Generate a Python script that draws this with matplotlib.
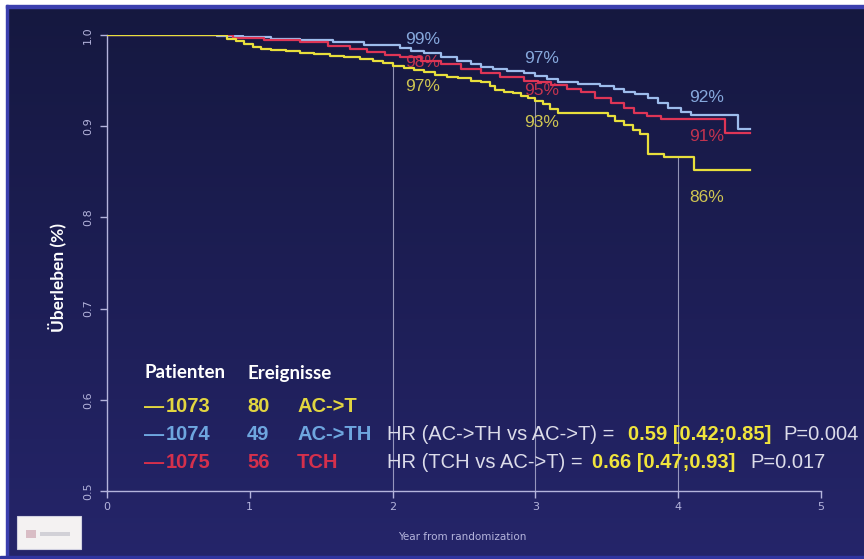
import matplotlib.pyplot as plt
import numpy as np
from matplotlib.colors import LinearSegmentedColormap
from matplotlib.patches import Rectangle

# --- Kaplan-Meier Daten ---
years_act = [0, 0.84, 0.90, 0.96, 1.02, 1.08, 1.15, 1.25, 1.35, 1.45, 1.56, 1.66, 1.77,
             1.86, 1.93, 2.00, 2.08, 2.15, 2.22, 2.30, 2.38, 2.46, 2.55, 2.62, 2.68,
             2.72, 2.78, 2.84, 2.90, 2.95, 3.00, 3.05, 3.10, 3.16, 3.51, 3.56, 3.62,
             3.68, 3.73, 3.79, 3.90, 4.11, 4.50]
surv_act = [1.0, 0.996, 0.993, 0.990, 0.987, 0.985, 0.984, 0.982, 0.980, 0.979, 0.977,
            0.976, 0.974, 0.972, 0.969, 0.966, 0.964, 0.962, 0.959, 0.956, 0.954, 0.953,
            0.950, 0.948, 0.944, 0.940, 0.938, 0.936, 0.933, 0.931, 0.928, 0.924, 0.919,
            0.915, 0.911, 0.906, 0.901, 0.896, 0.891, 0.870, 0.866, 0.852, 0.852]

years_acth = [0, 0.77, 0.95, 1.15, 1.35, 1.58, 1.80, 2.05, 2.13, 2.22, 2.34, 2.45, 2.55,
              2.62, 2.70, 2.80, 2.92, 3.00, 3.08, 3.16, 3.30, 3.45, 3.55, 3.62, 3.70,
              3.79, 3.86, 3.93, 4.02, 4.09, 4.42, 4.50]
surv_acth = [1.0, 0.999, 0.998, 0.996, 0.994, 0.992, 0.989, 0.986, 0.983, 0.980, 0.976,
             0.972, 0.968, 0.965, 0.963, 0.961, 0.958, 0.955, 0.952, 0.948, 0.946, 0.944,
             0.941, 0.938, 0.935, 0.931, 0.925, 0.920, 0.916, 0.912, 0.897, 0.897]

years_tch = [0, 0.88, 1.10, 1.35, 1.55, 1.70, 1.82, 1.95, 2.05, 2.20, 2.34, 2.48, 2.62,
             2.75, 2.92, 3.02, 3.11, 3.22, 3.32, 3.42, 3.53, 3.62, 3.69, 3.78, 3.88,
             4.33, 4.50]
surv_tch = [1.0, 0.997, 0.995, 0.992, 0.988, 0.985, 0.981, 0.978, 0.976, 0.972, 0.968,
            0.963, 0.958, 0.954, 0.950, 0.948, 0.945, 0.941, 0.937, 0.931, 0.925, 0.920,
            0.915, 0.911, 0.908, 0.893, 0.893]

arms = ['AC->T', 'AC->TH', 'TCH']
patients = [1073, 1074, 1075]
events = [80, 49, 56]
pct_act = ['97%', '93%', '86%']
pct_acth = ['99%', '97%', '92%']
pct_tch = ['98%', '95%', '91%']
hr_text = ['HR (AC->TH vs AC->T) =', 'HR (TCH vs AC->T) =']
hr_vals = ['0.59 [0.42;0.85]', '0.66 [0.47;0.93]']
p_vals = ['P=0.004', 'P=0.017']
ref_years = [2, 3, 4]
yticks = [0.5, 0.6, 0.7, 0.8, 0.9, 1.0]
xticks = [0, 1, 2, 3, 4, 5]

# --- Farben / Schriften ---
c_yellow, c_blue, c_red = '#e8df3c', '#9dbcec', '#de3556'
t_yellow, t_blue, t_red = '#e2d640', '#6ea6df', '#d5304c'
txt_white = '#dcdcea'
axis_col = '#b4b4dc'
sans = 'Liberation Sans'
bold_font = 'Lato'

W, H = 864, 559
fig = plt.figure(figsize=(W / 100, H / 100), dpi=100)


def fx(px):
    return px / W


def fy(py):
    return 1 - py / H


# Hintergrund mit Verlauf
bg = fig.add_axes([0, 0, 1, 1], zorder=-10)
cmap = LinearSegmentedColormap.from_list('navy', ['#15183f', '#1d1e55', '#25256a'])
bg.imshow(np.linspace(0, 1, 256).reshape(-1, 1), aspect='auto', cmap=cmap,
          extent=[0, 1, 0, 1], origin='upper')
bg.set_xlim(0, 1)
bg.set_ylim(0, 1)
bg.axis('off')

# Rahmen
fig.patches.append(Rectangle((0, 0), fx(6), 1, transform=fig.transFigure, color='white', zorder=-5))
fig.patches.append(Rectangle((0, fy(5)), 1, 5 / H, transform=fig.transFigure, color='white', zorder=-5))
fig.patches.append(Rectangle((fx(6), 0), 2 / W, fy(5), transform=fig.transFigure, color='#3b3fae', zorder=-5))
fig.patches.append(Rectangle((fx(6), fy(7.5)), 1, 2.5 / H, transform=fig.transFigure, color='#3b3fae', zorder=-5))
fig.patches.append(Rectangle((0, 0), 1, 3 / H, transform=fig.transFigure, color='#3034a0', zorder=-5))

# Logo-Platzhalter unten links
fig.patches.append(Rectangle((fx(17), fy(549)), 64 / W, 33 / H, transform=fig.transFigure,
                             facecolor='#f4f2f2', edgecolor='#d0d0e0', lw=0.8, zorder=2))
fig.patches.append(Rectangle((fx(26), fy(538)), 10 / W, 8 / H, transform=fig.transFigure,
                             facecolor='#c89aa8', edgecolor='none', alpha=0.6, zorder=3))
fig.patches.append(Rectangle((fx(40), fy(536)), 30 / W, 4 / H, transform=fig.transFigure,
                             facecolor='#c4c4cc', edgecolor='none', alpha=0.7, zorder=3))

# --- Plot ---
ax = fig.add_axes([fx(107), fy(491), (821 - 107) / W, (491 - 35) / H])
ax.set_facecolor('none')

for t, s, c in [(years_acth, surv_acth, c_blue), (years_tch, surv_tch, c_red),
                (years_act, surv_act, c_yellow)]:
    ax.plot(t, s, drawstyle='steps-post', color=c, lw=1.6, zorder=3)

# senkrechte Hilfslinien bis zur AC->T Kurve
for yr in ref_years:
    idx = np.searchsorted(years_act, yr, side='right') - 1
    ax.vlines(yr, 0.5, surv_act[idx], color='#c8c8e4', lw=0.8, alpha=0.7, zorder=1)

# Prozent-Beschriftungen
pct_x = [2.09, 2.92, 4.08]
pct_kw = dict(fontsize=12.5, family=sans, va='center', ha='left')
for x, lab, yv in zip(pct_x, pct_acth, [0.995, 0.974, 0.931]):
    ax.text(x, yv, lab, color='#86a8dc', zorder=2, **pct_kw)
for x, lab, yv in zip(pct_x, pct_tch, [0.970, 0.939, 0.889]):
    ax.text(x, yv, lab, color='#c2334f', zorder=2, **pct_kw)
for x, lab, yv in zip(pct_x, pct_act, [0.943, 0.904, 0.822]):
    ax.text(x, yv, lab, color='#cfc552', zorder=2, **pct_kw)

ax.set_xlim(0, 5)
ax.set_ylim(0.5, 1.0)
ax.set_xticks(xticks)
ax.set_xticklabels([str(v) for v in xticks])
ax.set_yticks(yticks)
ax.set_yticklabels([f'{v:.1f}' for v in yticks], rotation=90, va='center')
ax.spines['top'].set_visible(False)
ax.spines['right'].set_visible(False)
for sp in ['left', 'bottom']:
    ax.spines[sp].set_color(axis_col)
    ax.spines[sp].set_linewidth(1.0)
ax.tick_params(axis='both', colors=axis_col, length=5, width=1, labelsize=8)
ax.tick_params(axis='y', pad=5)
ax.tick_params(axis='x', pad=3)

fig.text(fx(57), fy(278), 'Überleben (%)', rotation=90, ha='center', va='center',
         color='white', fontsize=12.5, fontweight='bold', family=bold_font)
fig.text(fx(462), fy(537), 'Year from randomization', ha='center', va='center',
         color=axis_col, fontsize=7.5)

# --- Legende / Tabelle ---
fig.text(fx(145), fy(373), 'Patienten', color='white', fontsize=13.5, fontweight='bold',
         family=bold_font, va='center')
fig.text(fx(247), fy(373), 'Ereignisse', color='white', fontsize=13.5, fontweight='bold',
         family=bold_font, va='center')

row_y = [407, 434, 462]
row_cols = [t_yellow, t_blue, t_red]
leg_kw = dict(fontsize=14.5, family=sans, fontweight='bold', va='center')
for i in range(3):
    y = fy(row_y[i])
    fig.text(fx(144), y, '\u2014', color=row_cols[i], **leg_kw)
    fig.text(fx(166), y, str(patients[i]), color=row_cols[i], **leg_kw)
    fig.text(fx(247), y, str(events[i]), color=row_cols[i], **leg_kw)
    fig.text(fx(297), y, arms[i], color=row_cols[i], **leg_kw)

norm_kw = dict(fontsize=14.5, family=sans, va='center', color=txt_white)
val_x = [628, 592]
p_x = [783, 750]
for i in range(2):
    y = fy(row_y[i + 1])
    fig.text(fx(387), y, hr_text[i], **norm_kw)
    fig.text(fx(val_x[i]), y, hr_vals[i], color='#f0e43c', fontsize=14.5, family=sans,
             fontweight='bold', va='center')
    fig.text(fx(p_x[i]), y, p_vals[i], **norm_kw)

fig.savefig('out.png', dpi=100)
